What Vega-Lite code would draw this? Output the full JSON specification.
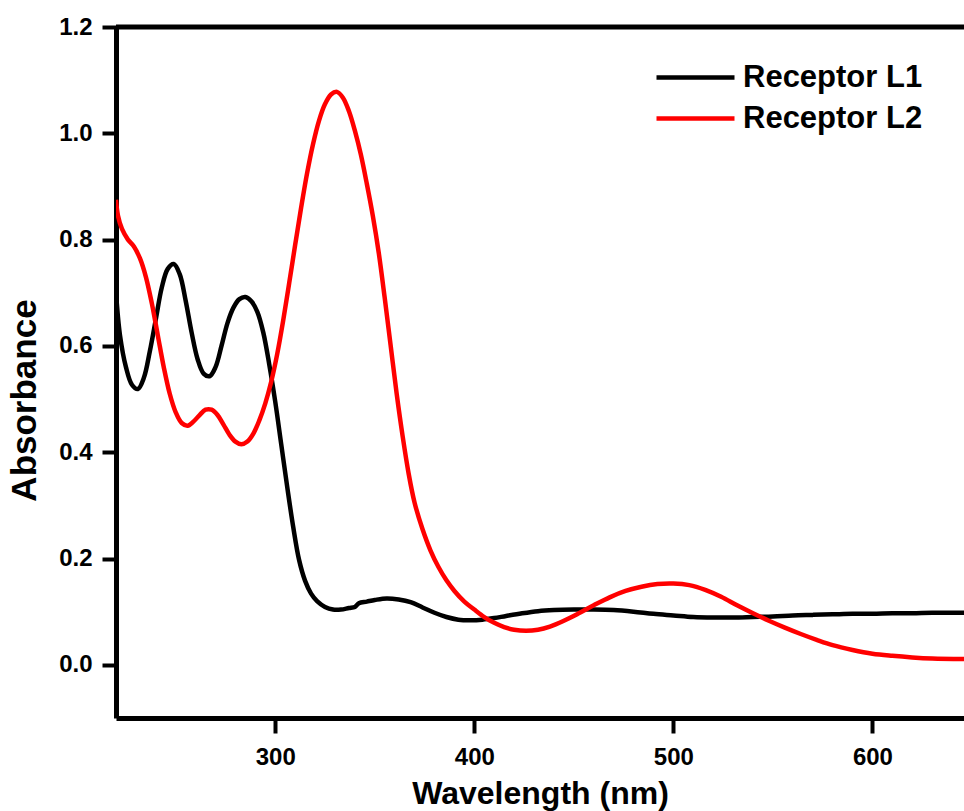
{
  "$schema": "https://vega.github.io/schema/vega-lite/v6.json",
  "width": 848,
  "height": 691,
  "autosize": {"type": "none"},
  "padding": {"left": 116, "top": 27, "right": 0, "bottom": 93},
  "background": "#ffffff",
  "config": {
    "view": {"stroke": null},
    "font": "Liberation Sans",
    "axis": {
      "grid": false,
      "domainColor": "#000000",
      "domainWidth": 5,
      "tickColor": "#000000",
      "tickWidth": 4,
      "labelColor": "#000000",
      "labelFont": "Liberation Sans",
      "labelFontSize": 24,
      "labelFontWeight": "bold",
      "titleColor": "#000000",
      "titleFont": "Liberation Sans",
      "titleFontSize": 32,
      "titleFontWeight": "bold"
    }
  },
  "datasets": {
    "spectra": [
      {"s": "Receptor L1", "w": 220, "a": 0.70},
      {"s": "Receptor L1", "w": 222, "a": 0.62},
      {"s": "Receptor L1", "w": 225, "a": 0.56},
      {"s": "Receptor L1", "w": 228, "a": 0.527},
      {"s": "Receptor L1", "w": 231, "a": 0.519},
      {"s": "Receptor L1", "w": 234, "a": 0.54},
      {"s": "Receptor L1", "w": 237, "a": 0.59},
      {"s": "Receptor L1", "w": 240, "a": 0.65},
      {"s": "Receptor L1", "w": 243, "a": 0.71},
      {"s": "Receptor L1", "w": 246, "a": 0.745},
      {"s": "Receptor L1", "w": 249, "a": 0.754},
      {"s": "Receptor L1", "w": 252, "a": 0.735},
      {"s": "Receptor L1", "w": 255, "a": 0.685},
      {"s": "Receptor L1", "w": 258, "a": 0.625},
      {"s": "Receptor L1", "w": 261, "a": 0.575},
      {"s": "Receptor L1", "w": 264, "a": 0.548},
      {"s": "Receptor L1", "w": 267, "a": 0.543},
      {"s": "Receptor L1", "w": 270, "a": 0.56},
      {"s": "Receptor L1", "w": 273, "a": 0.60},
      {"s": "Receptor L1", "w": 276, "a": 0.643},
      {"s": "Receptor L1", "w": 279, "a": 0.672},
      {"s": "Receptor L1", "w": 282, "a": 0.688},
      {"s": "Receptor L1", "w": 285, "a": 0.692},
      {"s": "Receptor L1", "w": 288, "a": 0.684},
      {"s": "Receptor L1", "w": 291, "a": 0.664},
      {"s": "Receptor L1", "w": 294, "a": 0.625},
      {"s": "Receptor L1", "w": 297, "a": 0.565},
      {"s": "Receptor L1", "w": 300, "a": 0.495},
      {"s": "Receptor L1", "w": 303, "a": 0.415},
      {"s": "Receptor L1", "w": 306, "a": 0.335},
      {"s": "Receptor L1", "w": 309, "a": 0.26},
      {"s": "Receptor L1", "w": 312, "a": 0.197},
      {"s": "Receptor L1", "w": 315, "a": 0.158},
      {"s": "Receptor L1", "w": 318, "a": 0.134},
      {"s": "Receptor L1", "w": 321, "a": 0.12},
      {"s": "Receptor L1", "w": 325, "a": 0.109},
      {"s": "Receptor L1", "w": 329, "a": 0.104},
      {"s": "Receptor L1", "w": 333, "a": 0.104},
      {"s": "Receptor L1", "w": 337, "a": 0.107},
      {"s": "Receptor L1", "w": 340, "a": 0.109},
      {"s": "Receptor L1", "w": 342, "a": 0.116},
      {"s": "Receptor L1", "w": 346, "a": 0.119},
      {"s": "Receptor L1", "w": 350, "a": 0.122},
      {"s": "Receptor L1", "w": 356, "a": 0.125},
      {"s": "Receptor L1", "w": 362, "a": 0.123},
      {"s": "Receptor L1", "w": 368, "a": 0.118},
      {"s": "Receptor L1", "w": 374, "a": 0.108},
      {"s": "Receptor L1", "w": 380, "a": 0.098},
      {"s": "Receptor L1", "w": 386, "a": 0.09},
      {"s": "Receptor L1", "w": 392, "a": 0.085},
      {"s": "Receptor L1", "w": 398, "a": 0.084},
      {"s": "Receptor L1", "w": 404, "a": 0.085},
      {"s": "Receptor L1", "w": 410, "a": 0.088},
      {"s": "Receptor L1", "w": 416, "a": 0.092},
      {"s": "Receptor L1", "w": 424, "a": 0.097},
      {"s": "Receptor L1", "w": 432, "a": 0.101},
      {"s": "Receptor L1", "w": 440, "a": 0.103},
      {"s": "Receptor L1", "w": 450, "a": 0.104},
      {"s": "Receptor L1", "w": 460, "a": 0.104},
      {"s": "Receptor L1", "w": 470, "a": 0.103},
      {"s": "Receptor L1", "w": 480, "a": 0.10},
      {"s": "Receptor L1", "w": 490, "a": 0.096},
      {"s": "Receptor L1", "w": 500, "a": 0.093},
      {"s": "Receptor L1", "w": 510, "a": 0.09},
      {"s": "Receptor L1", "w": 520, "a": 0.089},
      {"s": "Receptor L1", "w": 530, "a": 0.089},
      {"s": "Receptor L1", "w": 540, "a": 0.09},
      {"s": "Receptor L1", "w": 550, "a": 0.091},
      {"s": "Receptor L1", "w": 560, "a": 0.093},
      {"s": "Receptor L1", "w": 570, "a": 0.094},
      {"s": "Receptor L1", "w": 580, "a": 0.095},
      {"s": "Receptor L1", "w": 590, "a": 0.096},
      {"s": "Receptor L1", "w": 600, "a": 0.096},
      {"s": "Receptor L1", "w": 610, "a": 0.097},
      {"s": "Receptor L1", "w": 620, "a": 0.097},
      {"s": "Receptor L1", "w": 630, "a": 0.098},
      {"s": "Receptor L1", "w": 646, "a": 0.098},
      {"s": "Receptor L2", "w": 220, "a": 0.875},
      {"s": "Receptor L2", "w": 221, "a": 0.845},
      {"s": "Receptor L2", "w": 223, "a": 0.82},
      {"s": "Receptor L2", "w": 226, "a": 0.80},
      {"s": "Receptor L2", "w": 229, "a": 0.787},
      {"s": "Receptor L2", "w": 232, "a": 0.765},
      {"s": "Receptor L2", "w": 235, "a": 0.73},
      {"s": "Receptor L2", "w": 238, "a": 0.68},
      {"s": "Receptor L2", "w": 241, "a": 0.62},
      {"s": "Receptor L2", "w": 244, "a": 0.56},
      {"s": "Receptor L2", "w": 247, "a": 0.51},
      {"s": "Receptor L2", "w": 250, "a": 0.475},
      {"s": "Receptor L2", "w": 253, "a": 0.455},
      {"s": "Receptor L2", "w": 256, "a": 0.45},
      {"s": "Receptor L2", "w": 259, "a": 0.458},
      {"s": "Receptor L2", "w": 262, "a": 0.47},
      {"s": "Receptor L2", "w": 265, "a": 0.48},
      {"s": "Receptor L2", "w": 268, "a": 0.48},
      {"s": "Receptor L2", "w": 271, "a": 0.47},
      {"s": "Receptor L2", "w": 274, "a": 0.452},
      {"s": "Receptor L2", "w": 277, "a": 0.433},
      {"s": "Receptor L2", "w": 280, "a": 0.42},
      {"s": "Receptor L2", "w": 283, "a": 0.415},
      {"s": "Receptor L2", "w": 286, "a": 0.42},
      {"s": "Receptor L2", "w": 289, "a": 0.435},
      {"s": "Receptor L2", "w": 292, "a": 0.46},
      {"s": "Receptor L2", "w": 295, "a": 0.492},
      {"s": "Receptor L2", "w": 298, "a": 0.533},
      {"s": "Receptor L2", "w": 301, "a": 0.585},
      {"s": "Receptor L2", "w": 304, "a": 0.648},
      {"s": "Receptor L2", "w": 307, "a": 0.718},
      {"s": "Receptor L2", "w": 310, "a": 0.79},
      {"s": "Receptor L2", "w": 313, "a": 0.86},
      {"s": "Receptor L2", "w": 316, "a": 0.925},
      {"s": "Receptor L2", "w": 319, "a": 0.98},
      {"s": "Receptor L2", "w": 322, "a": 1.024},
      {"s": "Receptor L2", "w": 325, "a": 1.055},
      {"s": "Receptor L2", "w": 328, "a": 1.073},
      {"s": "Receptor L2", "w": 331, "a": 1.078},
      {"s": "Receptor L2", "w": 334, "a": 1.067},
      {"s": "Receptor L2", "w": 337, "a": 1.042},
      {"s": "Receptor L2", "w": 340, "a": 1.005},
      {"s": "Receptor L2", "w": 343, "a": 0.96},
      {"s": "Receptor L2", "w": 346, "a": 0.905},
      {"s": "Receptor L2", "w": 349, "a": 0.845},
      {"s": "Receptor L2", "w": 352, "a": 0.775},
      {"s": "Receptor L2", "w": 355, "a": 0.69},
      {"s": "Receptor L2", "w": 358, "a": 0.60},
      {"s": "Receptor L2", "w": 361, "a": 0.51},
      {"s": "Receptor L2", "w": 364, "a": 0.43},
      {"s": "Receptor L2", "w": 367, "a": 0.36},
      {"s": "Receptor L2", "w": 370, "a": 0.305},
      {"s": "Receptor L2", "w": 374, "a": 0.255},
      {"s": "Receptor L2", "w": 378, "a": 0.215},
      {"s": "Receptor L2", "w": 382, "a": 0.184},
      {"s": "Receptor L2", "w": 386, "a": 0.159},
      {"s": "Receptor L2", "w": 390, "a": 0.139},
      {"s": "Receptor L2", "w": 395, "a": 0.119},
      {"s": "Receptor L2", "w": 400, "a": 0.104},
      {"s": "Receptor L2", "w": 405, "a": 0.09},
      {"s": "Receptor L2", "w": 410, "a": 0.079},
      {"s": "Receptor L2", "w": 415, "a": 0.071},
      {"s": "Receptor L2", "w": 420, "a": 0.066},
      {"s": "Receptor L2", "w": 426, "a": 0.064},
      {"s": "Receptor L2", "w": 432, "a": 0.066},
      {"s": "Receptor L2", "w": 438, "a": 0.072},
      {"s": "Receptor L2", "w": 445, "a": 0.083},
      {"s": "Receptor L2", "w": 452, "a": 0.096},
      {"s": "Receptor L2", "w": 460, "a": 0.112},
      {"s": "Receptor L2", "w": 468, "a": 0.127},
      {"s": "Receptor L2", "w": 476, "a": 0.139},
      {"s": "Receptor L2", "w": 484, "a": 0.147},
      {"s": "Receptor L2", "w": 492, "a": 0.152},
      {"s": "Receptor L2", "w": 500, "a": 0.153},
      {"s": "Receptor L2", "w": 508, "a": 0.15},
      {"s": "Receptor L2", "w": 516, "a": 0.141},
      {"s": "Receptor L2", "w": 524, "a": 0.128},
      {"s": "Receptor L2", "w": 532, "a": 0.112},
      {"s": "Receptor L2", "w": 540, "a": 0.097},
      {"s": "Receptor L2", "w": 548, "a": 0.083},
      {"s": "Receptor L2", "w": 556, "a": 0.07},
      {"s": "Receptor L2", "w": 564, "a": 0.058},
      {"s": "Receptor L2", "w": 572, "a": 0.047},
      {"s": "Receptor L2", "w": 580, "a": 0.037},
      {"s": "Receptor L2", "w": 590, "a": 0.028},
      {"s": "Receptor L2", "w": 600, "a": 0.021},
      {"s": "Receptor L2", "w": 610, "a": 0.017},
      {"s": "Receptor L2", "w": 620, "a": 0.014},
      {"s": "Receptor L2", "w": 630, "a": 0.012},
      {"s": "Receptor L2", "w": 646, "a": 0.011}
    ],
    "border": [{"b": 1.2}]
  },
  "layer": [
    {
      "data": {"name": "border"},
      "mark": {"type": "rule", "color": "#000000", "strokeWidth": 5},
      "encoding": {
        "y": {"field": "b", "type": "quantitative", "scale": {"domain": [-0.1, 1.2], "nice": false, "zero": false}}
      }
    },
    {
      "data": {"name": "spectra"},
      "mark": {"type": "line", "interpolate": "catmull-rom", "strokeWidth": 4.5, "clip": true},
      "encoding": {
        "x": {
          "field": "w",
          "type": "quantitative",
          "scale": {"domain": [220, 646], "nice": false, "zero": false},
          "axis": {
            "title": "Wavelength (nm)",
            "values": [300, 400, 500, 600],
            "format": "d",
            "tickSize": 15,
            "labelPadding": 31,
            "labelBaseline": "alphabetic",
            "titleBaseline": "alphabetic",
            "titleY": 85
          }
        },
        "y": {
          "field": "a",
          "type": "quantitative",
          "scale": {"domain": [-0.1, 1.2], "nice": false, "zero": false},
          "axis": {
            "title": "Absorbance",
            "values": [0, 0.2, 0.4, 0.6, 0.8, 1.0, 1.2],
            "format": ".1f",
            "tickSize": 14,
            "labelPadding": 10,
            "titleFontSize": 35,
            "titleAngle": 270,
            "titleBaseline": "alphabetic",
            "titleX": -81,
            "titleY": 373
          }
        },
        "color": {
          "field": "s",
          "type": "nominal",
          "scale": {"domain": ["Receptor L1", "Receptor L2"], "range": ["#000000", "#ff0000"]},
          "legend": {
            "title": null,
            "orient": "none",
            "legendX": 538,
            "legendY": 30,
            "padding": 0,
            "symbolType": "stroke",
            "symbolSize": 6084,
            "symbolStrokeWidth": 4.5,
            "clipHeight": 41,
            "rowPadding": 0,
            "labelOffset": 6,
            "labelFont": "Liberation Sans",
            "labelFontSize": 31,
            "labelFontWeight": "bold",
            "labelColor": "#000000",
            "labelLimit": 400
          }
        }
      }
    }
  ]
}
